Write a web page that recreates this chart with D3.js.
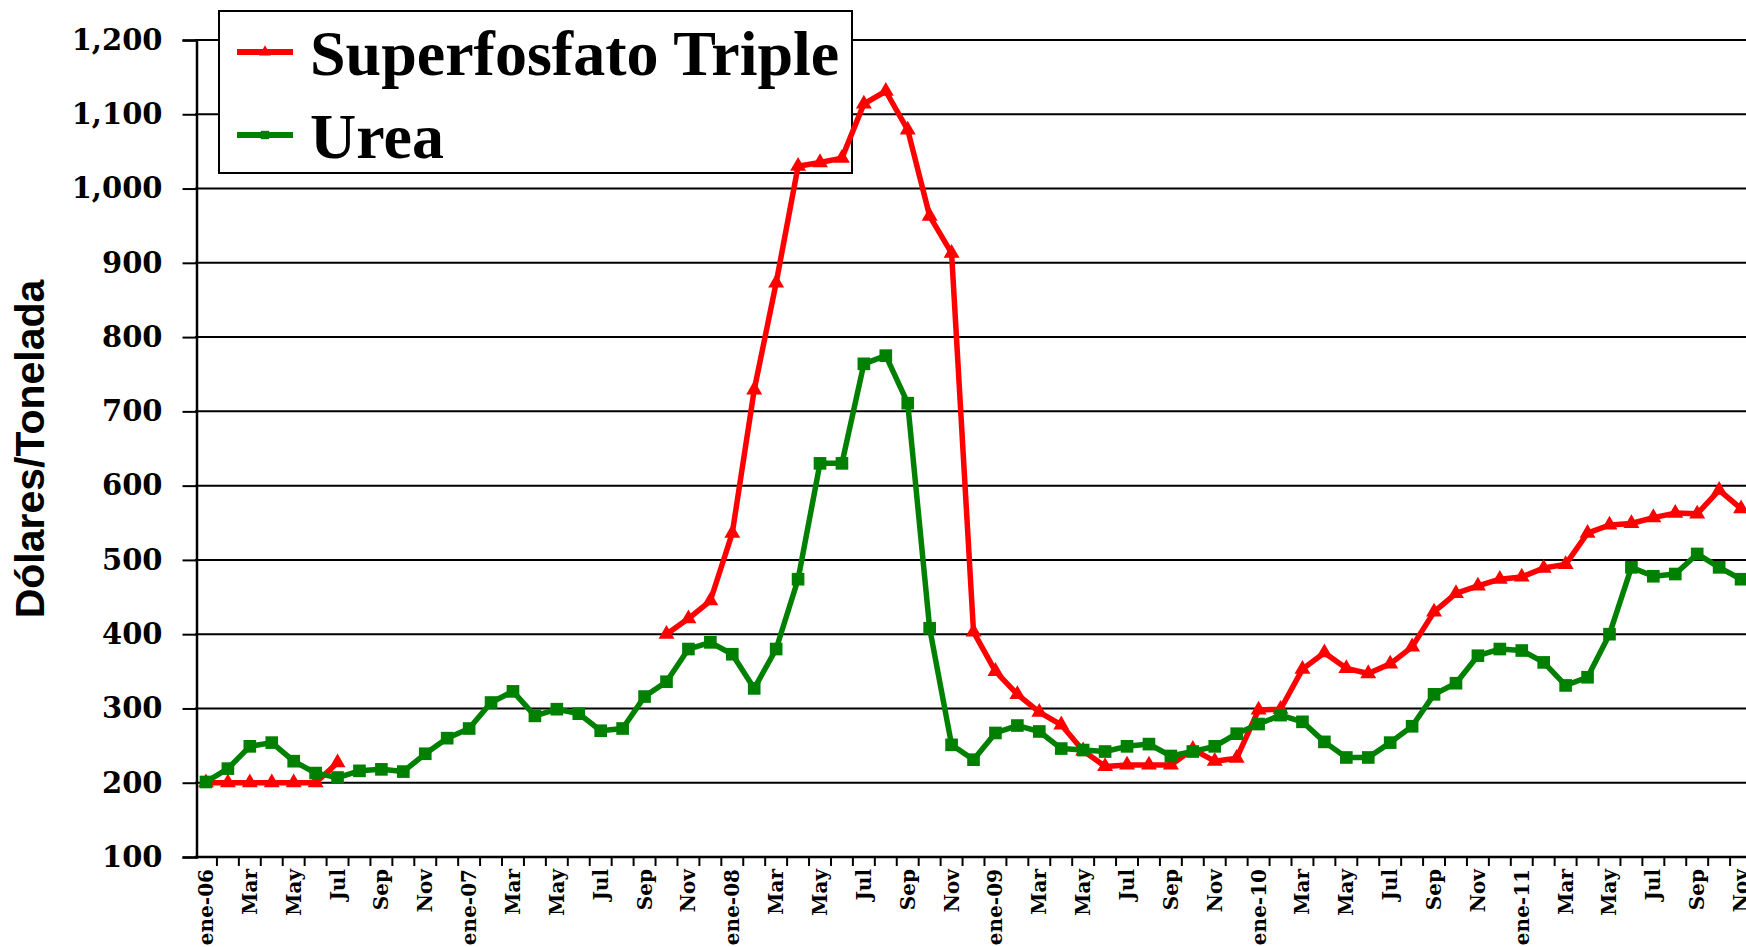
<!DOCTYPE html>
<html>
<head>
<meta charset="utf-8">
<script src="https://cdn.jsdelivr.net/npm/d3@7"></script>
<style>
  body { margin: 0; background: #fff; }
  svg { display: block; }
</style>
</head>
<body>
<svg id="svg1"></svg>
<script>
// data (US$ per tonne, monthly ene-06 .. nov-11)
const years = ["06", "07", "08", "09", "10", "11"];
const monthNames = ["ene", "Feb", "Mar", "Abr", "May", "Jun", "Jul", "Ago", "Sep", "Oct", "Nov", "Dic"];
const yTicks = [100, 200, 300, 400, 500, 600, 700, 800, 900, 1000, 1100, 1200];

const urea = [
  201, 219, 249, 254, 229, 213, 207, 216, 218, 215, 239, 260,
  273, 308, 323, 290, 299, 293, 270, 273, 316, 336, 380, 389,
  373, 327, 380, 474, 630, 630, 764, 775, 711, 408, 251, 231,
  267, 277, 269, 246, 244, 242, 249, 252, 236, 242, 249, 266,
  279, 291, 282, 255, 234, 234, 254, 276, 319, 334, 371, 380,
  378, 362, 331, 342, 400, 490, 478, 481, 508, 490, 474
];
const superfosfato = [
  200, 200, 200, 200, 200, 200, 227, null, null, null, null, null,
  null, null, null, null, null, null, null, null, null, 400, 421, 445,
  536, 729, 873, 1030, 1035, 1041, 1114, 1131, 1079, 963, 913, 403,
  350, 319, 295, 278, 243, 222, 224, 224, 224, 245, 229, 233,
  298, 299, 353, 375, 354, 347, 360, 383, 430, 455, 465, 474,
  477, 489, 494, 536, 547, 549, 557, 563, 562, 594, 569
];

const seriesNames = ["Superfosfato Triple", "Urea"];
const seriesColors = ["#ff0000", "#008000"];

// categories: year-month keys, first 71 months
const categories = [];
years.forEach(function(yy) {
  monthNames.forEach(function(m, i) {
    categories.push({key: m + "-" + yy, month: i, year: yy});
  });
});
const months = categories.slice(0, urea.length);

// layout
const width = 1746;
const height = 947;
const plot = {left: 195, top: 40, bottom: 857};
const step = 21.93;

const svg = d3.select('#svg1')
    .attr('width', width)
    .attr('height', height);

const x = d3.scaleBand()
    .domain(months.map(function(d) { return d.key; }))
    .range([plot.left, plot.left + months.length * step])
    .padding(0);

const y = d3.scaleLinear()
    .domain([100, 1200])
    .range([plot.bottom, plot.top]);

const cx = function(i) { return x(months[i].key) + x.bandwidth() / 2; };

// gridlines
svg.append('g')
    .selectAll('line')
    .data(yTicks.filter(function(d) { return d > 100; }))
    .enter()
    .append('line')
    .attr('x1', plot.left)
    .attr('x2', width)
    .attr('y1', function(d) { return y(d); })
    .attr('y2', function(d) { return y(d); })
    .attr('stroke', '#000')
    .attr('stroke-width', 2);

// Y axis
const yAxis = svg.append('g')
    .attr('transform', 'translate(' + (plot.left + 1.5) + ',0)')
    .call(d3.axisLeft(y).tickValues(yTicks).tickSize(14).tickPadding(20).tickFormat(d3.format(',')));
yAxis.select('.domain').attr('stroke', '#000').attr('stroke-width', 2.5);
yAxis.selectAll('.tick line').attr('stroke', '#000').attr('stroke-width', 2);
yAxis.selectAll('text')
    .attr('font-family', 'DejaVu Serif')
    .attr('font-weight', 'bold')
    .attr('font-size', 29)
    .attr('fill', '#000');

// X axis line and ticks between categories
svg.append('line')
    .attr('x1', plot.left)
    .attr('x2', width)
    .attr('y1', plot.bottom)
    .attr('y2', plot.bottom)
    .attr('stroke', '#000')
    .attr('stroke-width', 2.5);

svg.append('g')
    .selectAll('line')
    .data(months)
    .enter()
    .append('line')
    .attr('x1', function(d) { return x(d.key) + x.bandwidth(); })
    .attr('x2', function(d) { return x(d.key) + x.bandwidth(); })
    .attr('y1', plot.bottom)
    .attr('y2', plot.bottom + 9)
    .attr('stroke', '#000')
    .attr('stroke-width', 2);

// X labels, every other month
svg.append('g')
    .selectAll('text')
    .data(months.filter(function(d) { return d.month % 2 === 0; }))
    .enter()
    .append('text')
    .attr('transform', function(d) {
      return 'translate(' + (x(d.key) + x.bandwidth() / 2 + 7) + ',' + (plot.bottom + 12) + ')rotate(-90)';
    })
    .attr('text-anchor', 'end')
    .attr('font-family', 'DejaVu Serif')
    .attr('font-weight', 'bold')
    .attr('font-size', 20)
    .text(function(d) { return d.month === 0 ? d.key : d.key.split('-')[0]; });

// Y axis title
svg.append('text')
    .attr('transform', 'translate(44,449)rotate(-90)')
    .attr('text-anchor', 'middle')
    .attr('font-family', 'Liberation Sans')
    .attr('font-weight', 'bold')
    .attr('font-size', 41)
    .text('Dólares/Tonelada');

// legend box (under the series, over the grid)
const legend = svg.append('g');
legend.append('rect')
    .attr('x', 219)
    .attr('y', 11)
    .attr('width', 633)
    .attr('height', 162)
    .attr('fill', '#fff')
    .attr('stroke', '#000')
    .attr('stroke-width', 2);

const symbols = [d3.symbol(d3.symbolTriangle, 110), d3.symbol(d3.symbolSquare, 160)];
const legendY = [52, 135];

seriesNames.forEach(function(name, k) {
  legend.append('line')
      .attr('x1', 237)
      .attr('x2', 293)
      .attr('y1', legendY[k])
      .attr('y2', legendY[k])
      .attr('stroke', seriesColors[k])
      .attr('stroke-width', 6);
  legend.append('path')
      .attr('d', d3.symbol(k === 0 ? d3.symbolTriangle : d3.symbolSquare, k === 0 ? 60 : 70)())
      .attr('transform', 'translate(265,' + legendY[k] + ')')
      .attr('fill', seriesColors[k]);
  legend.append('text')
      .attr('x', 310)
      .attr('y', legendY[k] + 23)
      .attr('font-family', 'Liberation Serif')
      .attr('font-weight', 'bold')
      .attr('font-size', 64)
      .text(name);
});

// series
const line = d3.line()
    .defined(function(d) { return d != null; })
    .x(function(d, i) { return cx(i); })
    .y(function(d) { return y(d); });

[superfosfato, urea].forEach(function(values, k) {
  const g = svg.append('g');
  g.append('path')
      .datum(values)
      .attr('d', line)
      .attr('fill', 'none')
      .attr('stroke', seriesColors[k])
      .attr('stroke-width', 5.5)
      .attr('stroke-linejoin', 'round');
  g.selectAll('path.mark')
      .data(values.map(function(v, i) { return {v: v, i: i}; }).filter(function(d) { return d.v != null; }))
      .enter()
      .append('path')
      .attr('class', 'mark')
      .attr('d', symbols[k]())
      .attr('transform', function(d) { return 'translate(' + cx(d.i) + ',' + y(d.v) + ')'; })
      .attr('fill', seriesColors[k]);
});
</script>
</body>
</html>
